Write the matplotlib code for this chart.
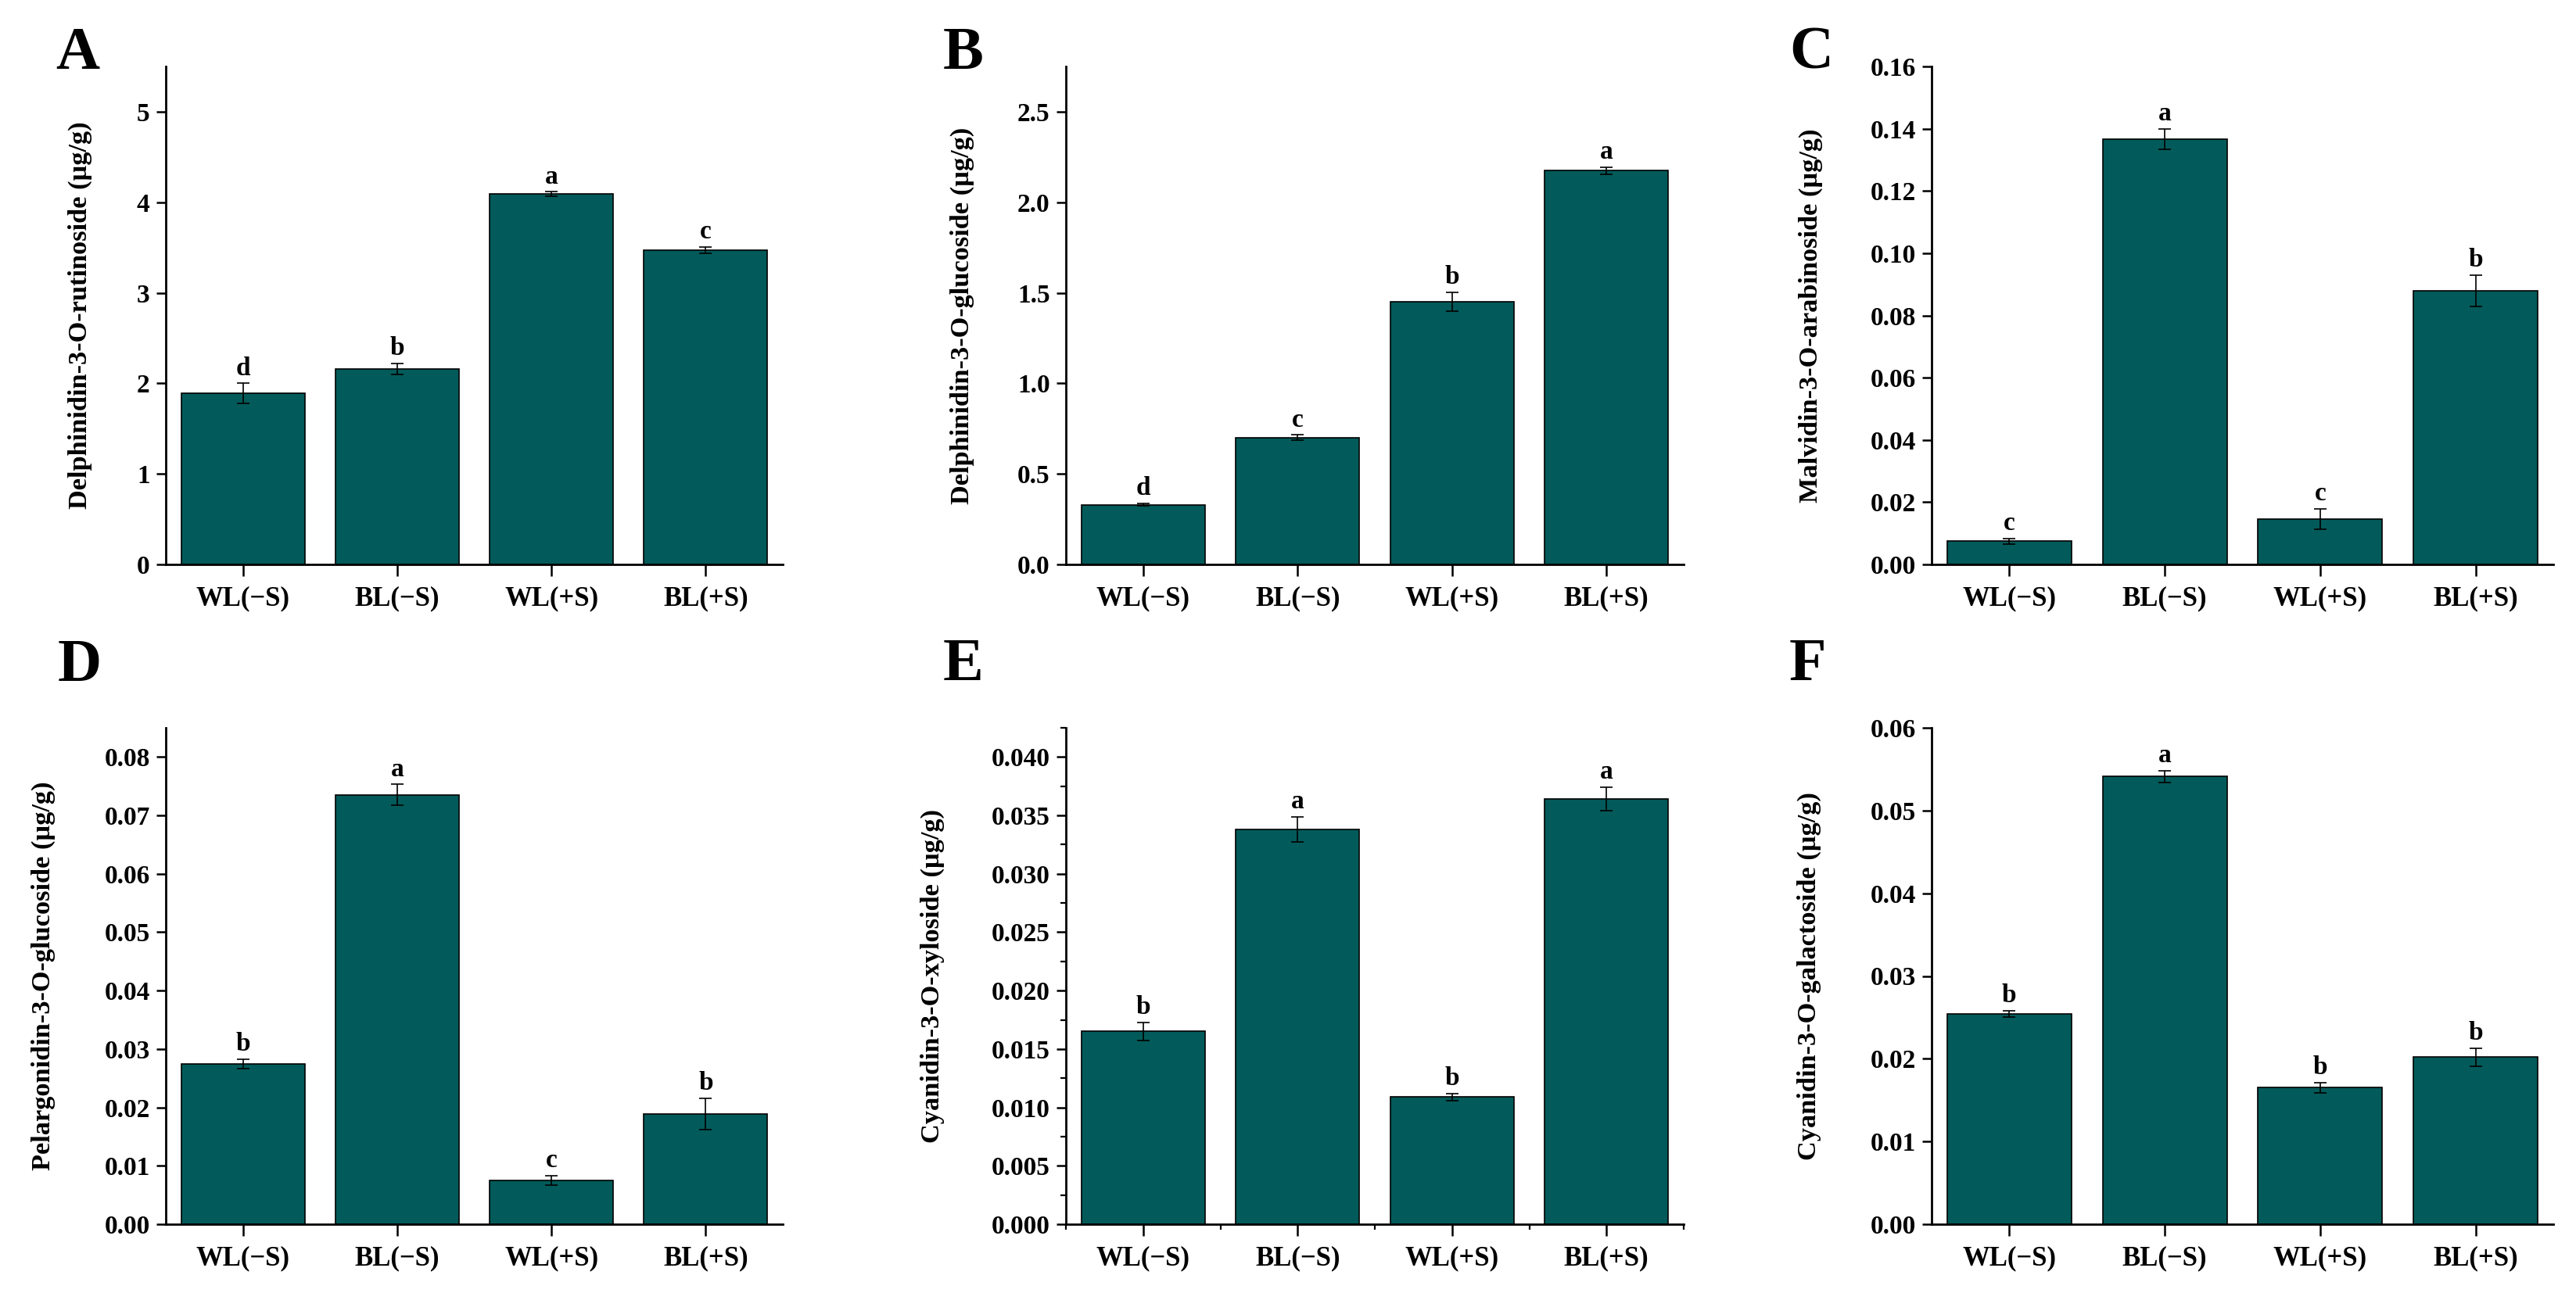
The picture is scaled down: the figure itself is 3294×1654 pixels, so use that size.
import numpy as np
import matplotlib
matplotlib.use("Agg")
import matplotlib.pyplot as plt
from matplotlib.ticker import MultipleLocator, FormatStrFormatter

plt.rcParams['font.family'] = ['Liberation Serif', 'DejaVu Serif']
plt.rcParams['font.weight'] = 'bold'

# categories and data
groups = ["WL(\u2212S)", "BL(\u2212S)", "WL(+S)", "BL(+S)"]

del_rut = [1.89, 2.16, 4.09, 3.47]
del_rut_err = [0.11, 0.06, 0.025, 0.035]
del_rut_sig = ["d", "b", "a", "c"]

del_glu = [0.33, 0.70, 1.45, 2.175]
del_glu_err = [0.008, 0.015, 0.053, 0.02]
del_glu_sig = ["d", "c", "b", "a"]

mal_ara = [0.0075, 0.1367, 0.0145, 0.088]
mal_ara_err = [0.0009, 0.0033, 0.0033, 0.005]
mal_ara_sig = ["c", "a", "c", "b"]

pel_glu = [0.0275, 0.0735, 0.0075, 0.0189]
pel_glu_err = [0.0008, 0.0018, 0.0008, 0.0027]
pel_glu_sig = ["b", "a", "c", "b"]

cya_xyl = [0.0165, 0.0338, 0.0109, 0.0364]
cya_xyl_err = [0.0008, 0.0011, 0.0003, 0.001]
cya_xyl_sig = ["b", "a", "b", "a"]

cya_gal = [0.0254, 0.0541, 0.0165, 0.0202]
cya_gal_err = [0.0004, 0.0007, 0.0006, 0.0011]
cya_gal_sig = ["b", "a", "b", "b"]

W, H = 3294, 1654
fig = plt.figure(figsize=(W / 200, H / 200), dpi=200)

bar_color = "#025B5A"

panels = [
    # letter, vals, err, sig, ylabel, ylim top, step, fmt, axes box (px), label x, letter pos, minor ticks
    ("A", del_rut, del_rut_err, del_rut_sig, "Delphinidin-3-O-rutinoside (\u00b5g/g)",
     5.5, 1, "%d", (212, 85, 1001, 722), -0.139, (71, 88), False),
    ("B", del_glu, del_glu_err, del_glu_sig, "Delphinidin-3-O-glucoside (\u00b5g/g)",
     2.75, 0.5, "%.1f", (1363, 85, 2153, 722), -0.168, (1206, 88), False),
    ("C", mal_ara, mal_ara_err, mal_ara_sig, "Malvidin-3-O-arabinoside (\u00b5g/g)",
     0.16, 0.02, "%.2f", (2470, 85, 3265, 722), -0.194, (2288, 88), False),
    ("D", pel_glu, pel_glu_err, pel_glu_sig, "Pelargonidin-3-O-glucoside (\u00b5g/g)",
     0.085, 0.01, "%.2f", (212, 931, 1001, 1566), -0.198, (74, 871), False),
    ("E", cya_xyl, cya_xyl_err, cya_xyl_sig, "Cyanidin-3-O-xyloside (\u00b5g/g)",
     0.0425, 0.005, "%.3f", (1363, 931, 2153, 1566), -0.216, (1206, 870), True),
    ("F", cya_gal, cya_gal_err, cya_gal_sig, "Cyanidin-3-O-galactoside (\u00b5g/g)",
     0.06, 0.01, "%.2f", (2470, 931, 3265, 1566), -0.197, (2288, 870), False),
]

x = np.arange(len(groups))

for (letter, vals, err, sig, ylab, ytop, step, fmt, box, labx, lpos, minor) in panels:
    l, t, r, b = box
    ax = fig.add_axes([l / W, 1 - b / H, (r - l) / W, (b - t) / H])
    ax.bar(x, vals, width=0.8, color=bar_color, edgecolor="black", linewidth=0.6, zorder=2)
    ax.errorbar(x, vals, yerr=err, fmt="none", ecolor="black", elinewidth=0.6,
                capsize=3, capthick=0.6, zorder=3)
    for xi, v, e, s in zip(x, vals, err, sig):
        ax.text(xi, v + e + ytop * 0.006, s, ha="center", va="bottom",
                fontsize=12, fontweight="bold")
    ax.set_xlim(-0.5, 3.5)
    ax.set_ylim(0, ytop)
    ax.yaxis.set_major_locator(MultipleLocator(step))
    ax.yaxis.set_major_formatter(FormatStrFormatter(fmt))
    ax.set_xticks(x)
    ax.set_xticklabels(groups)
    if minor:
        ax.yaxis.set_minor_locator(MultipleLocator(step / 2))
        ax.set_xticks([-0.5, 0.5, 1.5, 2.5, 3.5], minor=True)
    ax.spines["top"].set_visible(False)
    ax.spines["right"].set_visible(False)
    ax.spines["left"].set_linewidth(1.0)
    ax.spines["bottom"].set_linewidth(1.0)
    ax.tick_params(axis="y", which="major", length=4.3, width=0.9, pad=3, labelsize=12)
    ax.tick_params(axis="x", which="major", length=5.5, width=0.9, pad=4.5, labelsize=12.5)
    ax.tick_params(which="minor", length=2.5, width=0.8)
    for lab in ax.get_xticklabels() + ax.get_yticklabels():
        lab.set_fontweight("bold")
    ax.set_ylabel(ylab, fontsize=12.4, fontweight="bold", va="center")
    ax.yaxis.set_label_coords(labx, 0.5)
    fig.text(lpos[0] / W, 1 - lpos[1] / H, letter, fontsize=28, fontweight="bold",
             ha="left", va="baseline")

fig.savefig("out.png", dpi=200)
